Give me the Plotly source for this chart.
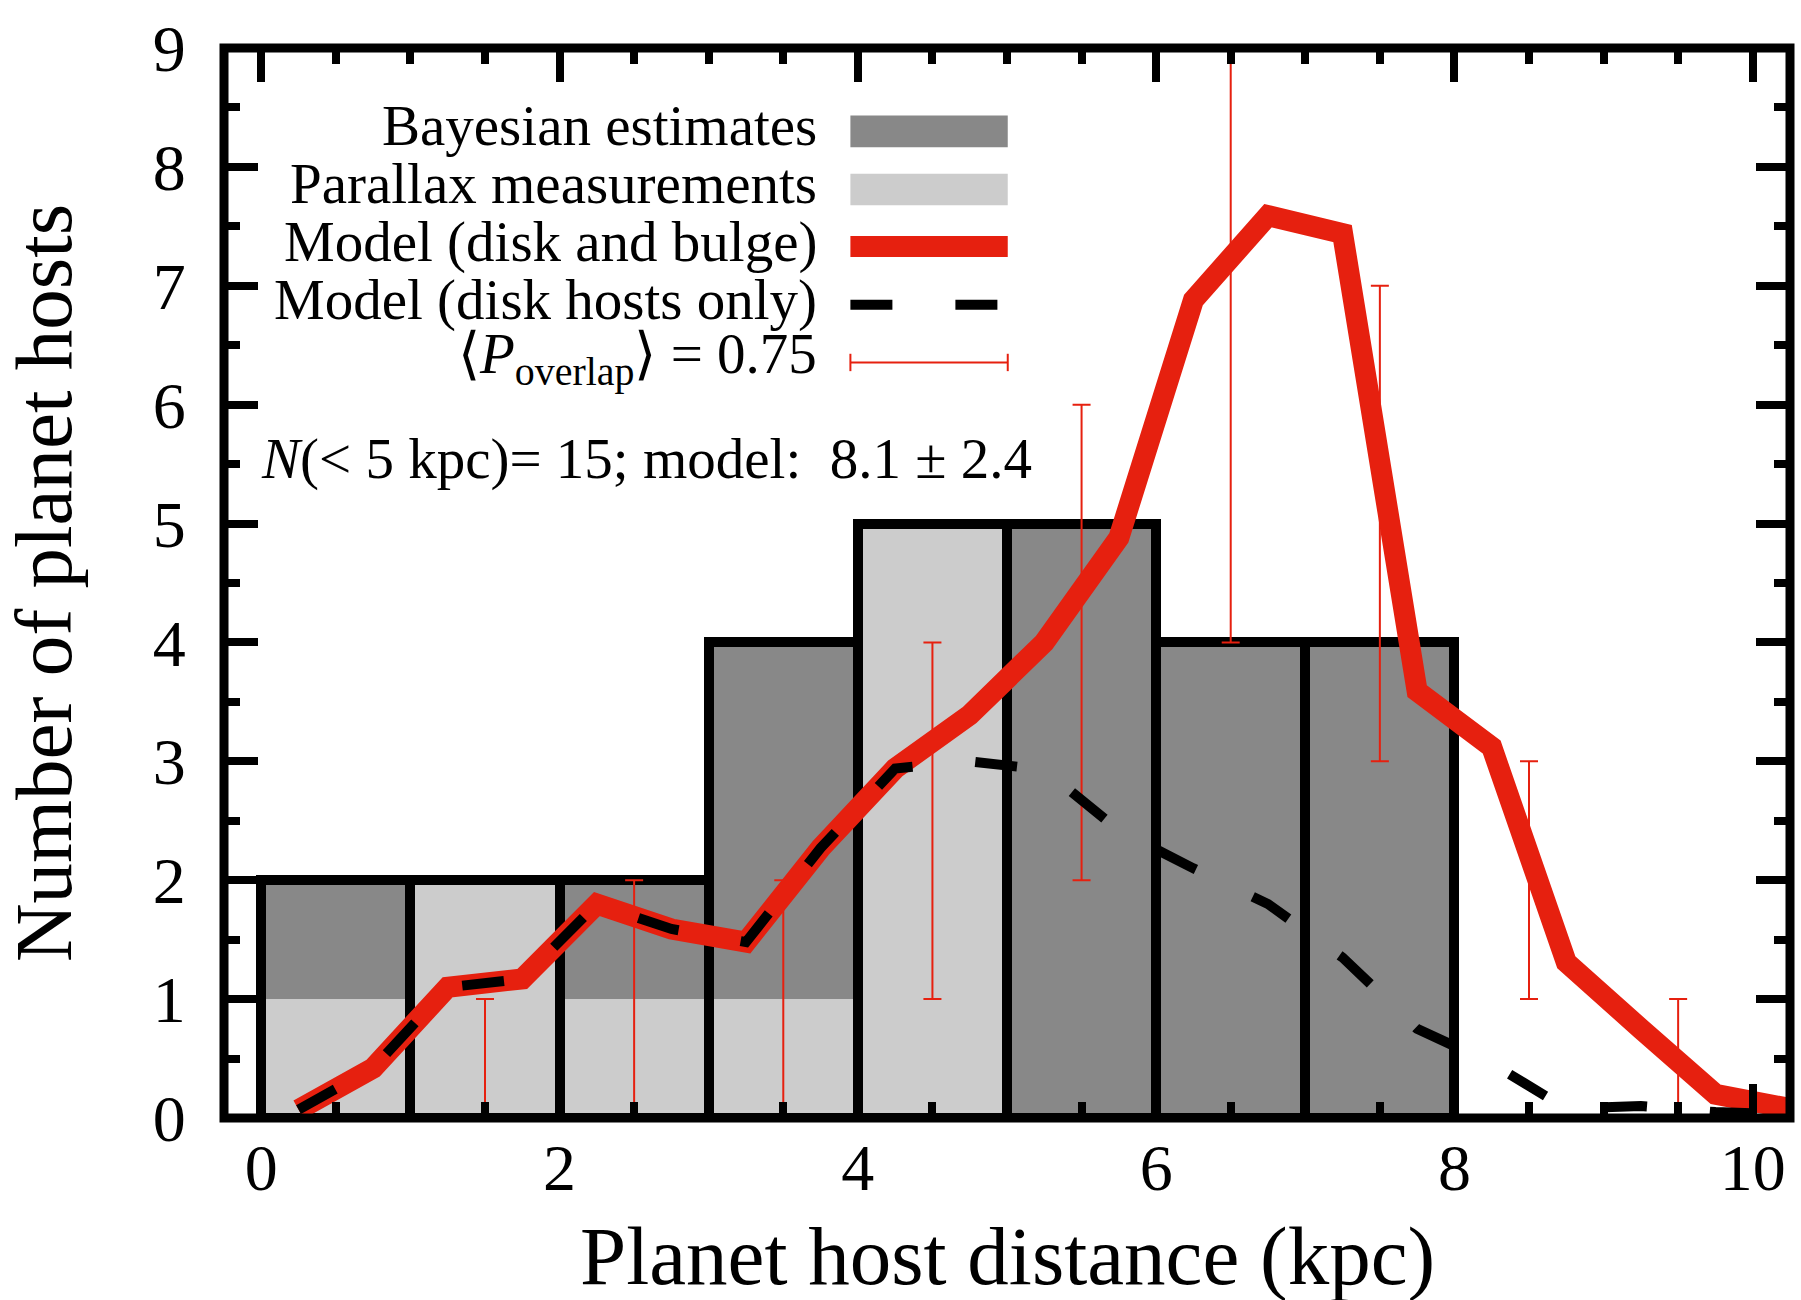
import plotly.graph_objects as go

# ---------------- data ----------------
bin_centers = [0.5, 1.5, 2.5, 3.5, 4.5, 5.5, 6.5, 7.5]
parallax_counts = [1, 2, 1, 1, 5, 0, 0, 0]
bayesian_counts = [1, 0, 1, 3, 0, 5, 4, 4]
total_counts = [p + b for p, b in zip(parallax_counts, bayesian_counts)]

model_x = [0.25, 0.75, 1.25, 1.75, 2.25, 2.75, 3.25, 3.75, 4.25, 4.75, 5.25,
           5.75, 6.25, 6.75, 7.25, 7.75, 8.25, 8.75, 9.25, 9.75, 10.25]
model_all = [0.07, 0.42, 1.10, 1.17, 1.80, 1.59, 1.48, 2.27, 2.94, 3.39, 4.00,
             4.88, 6.88, 7.59, 7.44, 3.59, 3.12, 1.31, 0.75, 0.20, 0.08]
model_disk = [0.07, 0.42, 1.10, 1.17, 1.80, 1.59, 1.48, 2.27, 2.94, 3.00, 2.93,
              2.42, 2.10, 1.80, 1.35, 0.75, 0.46, 0.08, 0.10, 0.05, 0.03]

err_x = [1.5, 2.5, 3.5, 4.5, 5.5, 6.5, 7.5, 8.5, 9.5]
err_lo = [0, 0, 0, 1, 2, 4, 3, 1, 0]
err_hi = [1, 2, 2, 4, 6, 9, 7, 3, 1]

x_ticks = [0, 2, 4, 6, 8, 10]
y_ticks = [0, 1, 2, 3, 4, 5, 6, 7, 8, 9]

DARK = "#888888"
LIGHT = "#cccccc"
RED = "#e6200f"
FONT = "Liberation Serif"

fig = go.Figure()

fig.add_trace(go.Bar(x=bin_centers, y=parallax_counts, width=1,
                     marker=dict(color=LIGHT, line=dict(width=0)),
                     name="Parallax measurements", showlegend=False))
fig.add_trace(go.Bar(x=bin_centers, y=bayesian_counts, base=parallax_counts, width=1,
                     marker=dict(color=DARK, line=dict(width=0)),
                     name="Bayesian estimates", showlegend=False))
fig.add_trace(go.Bar(x=bin_centers, y=total_counts, width=1,
                     marker=dict(color="rgba(0,0,0,0)", line=dict(width=10, color="black")),
                     showlegend=False, hoverinfo="skip"))

fig.add_trace(go.Scatter(
    x=err_x, y=err_lo, mode="markers",
    marker=dict(size=1, color="rgba(0,0,0,0)"),
    error_y=dict(type="data", symmetric=False,
                 array=[h - l for h, l in zip(err_hi, err_lo)],
                 arrayminus=[0] * len(err_lo),
                 color=RED, thickness=2, width=9),
    showlegend=False))

fig.add_trace(go.Scatter(x=model_x, y=model_all, mode="lines",
                         line=dict(color=RED, width=21),
                         name="Model (disk and bulge)", showlegend=False))
fig.add_trace(go.Scatter(x=model_x, y=model_disk, mode="lines",
                         line=dict(color="black", width=10, dash="42px,63px"),
                         name="Model (disk hosts only)", showlegend=False))

# ---------------- legend (drawn manually) ----------------
lx0, lx1 = 3.95, 5.005
shapes = [
    dict(type="rect", xref="x", yref="y", x0=lx0, x1=lx1, y0=8.166, y1=8.432,
         fillcolor=DARK, line=dict(width=0)),
    dict(type="rect", xref="x", yref="y", x0=lx0, x1=lx1, y0=7.677, y1=7.943,
         fillcolor=LIGHT, line=dict(width=0)),
    dict(type="line", xref="x", yref="y", x0=lx0, x1=lx1, y0=7.33, y1=7.33,
         line=dict(color=RED, width=21)),
    dict(type="line", xref="x", yref="y", x0=lx0, x1=lx1, y0=6.84, y1=6.84,
         line=dict(color="black", width=10, dash="42px,63px")),
    dict(type="line", xref="x", yref="y", x0=lx0, x1=lx1, y0=6.355, y1=6.355,
         line=dict(color=RED, width=2)),
    dict(type="line", xref="x", yref="y", x0=lx0, x1=lx0, y0=6.282, y1=6.428,
         line=dict(color=RED, width=2)),
    dict(type="line", xref="x", yref="y", x0=lx1, x1=lx1, y0=6.282, y1=6.428,
         line=dict(color=RED, width=2)),
    # plot frame, centred on the plot-area edges
    dict(type="rect", xref="paper", yref="paper", x0=0, x1=1, y0=0, y1=1,
         line=dict(color="black", width=9), fillcolor="rgba(0,0,0,0)", layer="above"),
]

legend_labels = ["Bayesian estimates", "Parallax measurements", "Model (disk and bulge)",
                 "Model (disk hosts only)",
                 "⟨<i>P</i><sub>overlap</sub>⟩ = 0.75"]
legend_y = [8.35, 7.86, 7.37, 6.88, 6.39]

annotations = []
for lab, yy in zip(legend_labels, legend_y):
    annotations.append(dict(text=lab, xref="x", yref="y", x=3.737, y=yy,
                            xanchor="right", yanchor="middle", showarrow=False,
                            font=dict(family=FONT, size=57, color="black")))

annotations.append(dict(text="<i>N</i>(&lt; 5 kpc)= 15; model:  8.1 ± 2.4",
                        xref="x", yref="y", x=-0.015, y=5.54,
                        xanchor="left", yanchor="middle", showarrow=False,
                        font=dict(family=FONT, size=57, color="black")))

annotations.append(dict(text="Planet host distance (kpc)", xref="x", yref="paper",
                        x=5.0, y=-0.129, xanchor="center", yanchor="middle",
                        showarrow=False, font=dict(family=FONT, size=83, color="black")))
annotations.append(dict(text="Number of planet hosts", xref="paper", yref="paper",
                        x=-0.115, y=0.5, xanchor="center", yanchor="middle",
                        textangle=-90, showarrow=False,
                        font=dict(family=FONT, size=81, color="black")))

# tick-label placement
x_standoff = -16
try:
    go.layout.XAxis(ticklabelstandoff=x_standoff)
except ValueError:
    x_standoff = 0

axis_common = dict(showline=True, linewidth=9, linecolor="rgba(0,0,0,0)", mirror="ticks",
                   ticks="inside", ticklen=34, tickwidth=8, tickcolor="black",
                   showgrid=False, zeroline=False,
                   tickfont=dict(family=FONT, size=66, color="black"))

fig.update_layout(
    width=1801, height=1300,
    margin=dict(l=224, r=2, t=48, b=182),
    paper_bgcolor="white", plot_bgcolor="white",
    barmode="overlay", bargap=0,
    shapes=shapes, annotations=annotations,
    xaxis=dict(range=[-0.25, 10.25], tickvals=x_ticks,
               ticktext=[str(v) for v in x_ticks], ticklabelstandoff=x_standoff,
               minor=dict(dtick=0.5, tick0=0, ticks="inside", ticklen=16,
                          tickwidth=8, tickcolor="black"),
               **axis_common),
    yaxis=dict(range=[0, 9], tickvals=y_ticks,
               ticktext=[str(v) for v in y_ticks], ticklabelstandoff=16,
               minor=dict(dtick=0.5, tick0=0, ticks="inside", ticklen=16,
                          tickwidth=8, tickcolor="black"),
               **axis_common),
    showlegend=False,
)

fig.write_html("out.html")
